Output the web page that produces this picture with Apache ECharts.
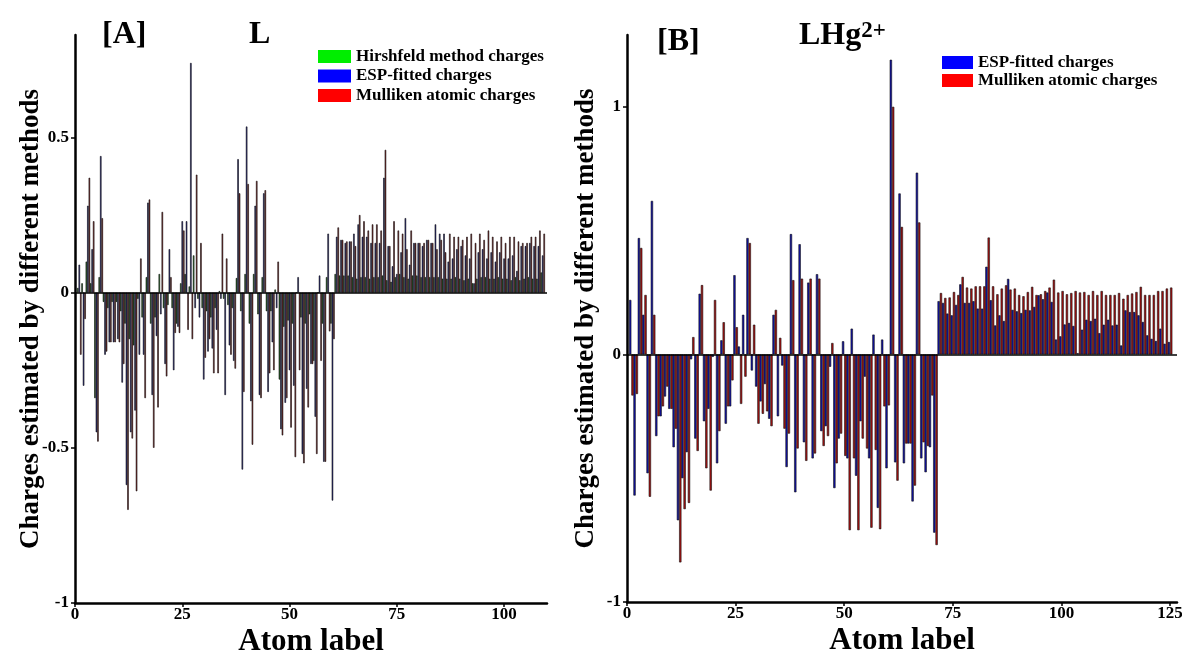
<!DOCTYPE html>
<html>
<head>
<meta charset="utf-8">
<script src="https://cdn.jsdelivr.net/npm/echarts@6/dist/echarts.min.js"></script>
<style>
  html, body { margin: 0; background: #fff; }
  #chart { width: 1182px; height: 653px; }
</style>
</head>
<body>
<div id="chart"></div>
<script>
// [A] L : charges per atom (1..109)
const hirshA = [
  0.015, 0.03, 0.1, 0.03, -0.34, 0.05, -0.03, -0.05, -0.03, -0.03,
  -0.06, -0.1, -0.15, -0.17, -0.02, -0.08, 0.05, -0.1, -0.08, 0.06,
  -0.05, -0.04, -0.05, -0.1, 0.03, 0.06, 0.02, 0.12, -0.02, -0.05,
  -0.06, -0.08, -0.05, 0.005, -0.02, -0.04, -0.05, 0.047, -0.06, 0.06,
  -0.1, 0.06, -0.07, 0.05, -0.06, -0.06, 0.01, -0.28, -0.11, -0.09,
  -0.1, 0, -0.08, -0.1, -0.07, -0.22, 0, -0.1, 0.05, -0.1,
  0.06, 0.055, 0.055, 0.055, 0.05, 0.045, 0.05, 0.05, 0.045, 0.05,
  0.05, 0.055, 0.04, 0.035, 0.05, 0.06, 0.05, 0.045, 0.055, 0.055,
  0.05, 0.05, 0.05, 0.05, 0.05, 0.045, 0.045, 0.045, 0.05, 0.045,
  0.04, 0.045, 0.03, 0.045, 0.05, 0.05, 0.045, 0.045, 0.05, 0.045,
  0.045, 0.04, 0.05, 0.04, 0.045, 0.05, 0.045, 0.045, 0.065
];
const espA = [
  0.09, -0.3, 0.28, 0.14, -0.45, 0.44, -0.2, -0.16, -0.16, -0.15,
  -0.29, -0.62, -0.45, -0.38, -0.2, -0.2, 0.29, -0.33, -0.14, -0.07,
  -0.23, 0.14, -0.25, -0.11, 0.23, 0.23, 0.74, -0.05, -0.08, -0.28,
  -0.19, -0.18, -0.12, -0.02, -0.33, -0.17, -0.22, 0.43, -0.57, 0.535,
  -0.35, 0.28, -0.33, 0.32, -0.32, -0.16, -0.05, -0.44, -0.355, -0.25,
  -0.3, 0.05, -0.52, -0.31, -0.23, -0.4, 0.055, -0.545, 0.19, -0.67,
  0.18, 0.17, 0.16, 0.165, 0.19, 0.22, 0.18, 0.18, 0.16, 0.16,
  0.16, 0.37, 0.15, 0.085, 0.06, 0.13, 0.24, 0.09, 0.16, 0.16,
  0.15, 0.17, 0.16, 0.22, 0.19, 0.19, 0.1, 0.11, 0.14, 0.15,
  0.12, 0.11, 0.03, 0.13, 0.14, 0.11, 0.13, 0.1, 0.13, 0.11,
  0.11, 0.12, 0.07, 0.15, 0.15, 0.16, 0.15, 0.15, 0.12
];
const mullA = [
  -0.2, -0.085, 0.37, 0.23, -0.48, 0.24, -0.19, -0.16, -0.16, -0.16,
  -0.23, -0.7, -0.47, -0.64, 0.11, -0.34, 0.3, -0.5, -0.37, 0.26,
  -0.27, 0.05, -0.13, -0.13, 0.2, -0.12, -0.15, 0.38, 0.16, -0.21,
  -0.15, -0.26, -0.26, 0.19, 0.11, -0.2, -0.245, 0.32, -0.32, 0.35,
  -0.49, 0.36, -0.34, 0.33, -0.26, -0.25, 0.1, -0.46, -0.34, -0.435,
  -0.53, -0.25, -0.55, -0.37, -0.23, -0.52, -0.22, -0.545, -0.125, -0.15,
  0.21, 0.17, 0.165, 0.165, 0.15, 0.25, 0.23, 0.2, 0.22, 0.22,
  0.2, 0.46, 0.15, 0.23, 0.2, 0.19, 0.14, 0.2, 0.16, 0.16,
  0.16, 0.17, 0.16, 0.14, 0.17, 0.13, 0.19, 0.18, 0.18, 0.17,
  0.18, 0.19, 0.16, 0.19, 0.17, 0.2, 0.18, 0.165, 0.18, 0.16,
  0.18, 0.18, 0.165, 0.16, 0.16, 0.18, 0.18, 0.2, 0.19
];

// [B] LHg2+ : charges per atom (1..125)
const espB = [
  0.22, -0.57, 0.47, 0.16, -0.48, 0.62, -0.33, -0.25, -0.17, -0.22,
  -0.375, -0.67, -0.5, -0.395, -0.02, -0.34, 0.245, -0.27, -0.22, -0.01,
  -0.44, 0.057, -0.28, -0.21, 0.32, 0.032, 0.16, 0.47, -0.065, -0.13,
  -0.19, -0.12, -0.26, 0.16, -0.25, -0.045, -0.455, 0.486, -0.557, 0.445,
  -0.355, 0.29, -0.42, 0.324, -0.31, -0.29, -0.05, -0.54, -0.34, 0.053,
  -0.42, 0.104, -0.49, -0.27, -0.09, -0.42, 0.08, -0.62, 0.06, -0.46,
  1.19, -0.436, 0.65, -0.44, -0.36, -0.594, 0.734, -0.42, -0.476, -0.375,
  -0.72,
  0.215, 0.208, 0.165, 0.158, 0.2, 0.283, 0.208, 0.208, 0.215, 0.185,
  0.185, 0.354, 0.219, 0.117, 0.158, 0.135, 0.305, 0.18, 0.174, 0.167,
  0.18, 0.178, 0.192, 0.239, 0.223, 0.25, 0.212, 0.06, 0.073, 0.121,
  0.127, 0.115, 0.005, 0.1, 0.14, 0.135, 0.144, 0.086, 0.12, 0.14,
  0.117, 0.12, 0.036, 0.178, 0.171, 0.171, 0.158, 0.131, 0.077, 0.063,
  0.054, 0.104, 0.043, 0.05
];
const mullB = [
  -0.166, -0.16, 0.43, 0.24, -0.575, 0.16, -0.25, -0.21, -0.13, -0.22,
  -0.3, -0.84, -0.625, -0.6, 0.07, -0.39, 0.28, -0.46, -0.55, 0.22,
  -0.31, 0.13, -0.21, -0.105, 0.11, -0.2, -0.09, 0.45, 0.12, -0.28,
  -0.24, -0.23, -0.29, 0.18, 0.067, -0.3, -0.32, 0.3, -0.38, 0.306,
  -0.43, 0.306, -0.4, 0.306, -0.37, -0.33, 0.046, -0.44, -0.32, -0.41,
  -0.71, -0.42, -0.71, -0.34, -0.38, -0.7, -0.386, -0.706, -0.21, -0.206,
  1.0, -0.51, 0.515, -0.36, -0.36, -0.53, 0.533, -0.355, -0.37, -0.166,
  -0.77,
  0.248, 0.228, 0.23, 0.252, 0.24, 0.313, 0.27, 0.266, 0.275, 0.275,
  0.275, 0.472, 0.275, 0.243, 0.266, 0.279, 0.262, 0.266, 0.24, 0.235,
  0.252, 0.273, 0.24, 0.243, 0.256, 0.27, 0.302, 0.25, 0.256, 0.243,
  0.248, 0.256, 0.25, 0.252, 0.24, 0.256, 0.24, 0.256, 0.24, 0.24,
  0.24, 0.248, 0.225, 0.24, 0.246, 0.252, 0.273, 0.24, 0.24, 0.24,
  0.256, 0.256, 0.266, 0.27
];

const xTicksA = [0, 25, 50, 75, 100];
const xTicksB = [0, 25, 50, 75, 100, 125];
const yTicksA = [-1, -0.5, 0, 0.5];
const yTicksB = [-1, 0, 1];

const SERIF = '"Liberation Serif", "DejaVu Serif", serif';
const toPairs = vals => vals.map((v, i) => [i + 1, v]);

const chart = echarts.init(document.getElementById('chart'));

const axisLab = { fontFamily: SERIF, fontWeight: 'bold', fontSize: 17, color: '#000' };
const xNameStyle = { fontFamily: SERIF, fontWeight: 'bold', fontSize: 31, color: '#000' };
const yNameStyle = { fontFamily: SERIF, fontWeight: 'bold', fontSize: 27, color: '#000' };
const lineStyle = { color: '#000', width: 2.5 };

function xAxis(idx, max, ticks) {
  return {
    type: 'value', gridIndex: idx, min: 0, max: max,
    name: 'Atom label', nameLocation: 'middle', nameGap: 23, nameTextStyle: xNameStyle,
    nameMoveOverlap: false,
    axisLine: { show: true, onZero: false, lineStyle: lineStyle },
    axisTick: { show: true, length: 4, lineStyle: { color: '#000', width: 1.5 }, customValues: ticks },
    axisLabel: Object.assign({ margin: 3, customValues: ticks }, axisLab),
    splitLine: { show: false }
  };
}
function yAxis(idx, max, ticks, gap) {
  return {
    type: 'value', gridIndex: idx, min: -1, max: max,
    name: 'Charges estimated by different methods', nameLocation: 'middle', nameGap: gap,
    nameRotate: 90, nameTextStyle: yNameStyle, nameMoveOverlap: false,
    axisLine: { show: true, lineStyle: lineStyle },
    axisTick: { show: true, length: 4, lineStyle: { color: '#000', width: 1.5 }, customValues: ticks },
    axisLabel: Object.assign({ margin: 6, customValues: ticks }, axisLab),
    splitLine: { show: false }
  };
}

const zeroLine = {
  silent: true, symbol: 'none', label: { show: false },
  lineStyle: { color: '#000', type: 'solid', width: 1.5 },
  data: [{ yAxis: 0 }]
};

function bars(name, xi, vals, color, width, withZero) {
  const s = {
    name: name, type: 'bar', xAxisIndex: xi, yAxisIndex: xi,
    data: toPairs(vals), barWidth: width, barGap: '0%',
    itemStyle: { color: color, borderColor: '#111', borderWidth: 0.6 }
  };
  if (withZero) s.markLine = zeroLine;
  return s;
}

const legendText = { fontFamily: SERIF, fontWeight: 'bold', fontSize: 17, color: '#000' };
const titleStyle = { fontFamily: SERIF, fontWeight: 'bold', fontSize: 32, color: '#000' };

chart.setOption({
  animation: false,
  backgroundColor: '#fff',
  title: [
    { text: '[A]', left: 97, top: 14, textStyle: titleStyle },
    { text: 'L', left: 244, top: 14, textStyle: titleStyle },
    { text: '[B]', left: 652, top: 21, textStyle: titleStyle },
    {
      text: '{a|LHg}{b|2+}', left: 794, top: 15,
      textStyle: {
        rich: {
          a: { fontFamily: SERIF, fontWeight: 'bold', fontSize: 32, color: '#000', verticalAlign: 'bottom' },
          b: { fontFamily: SERIF, fontWeight: 'bold', fontSize: 23, color: '#000', verticalAlign: 'top' }
        }
      }
    }
  ],
  legend: [
    {
      left: 313, top: 43, orient: 'vertical', itemWidth: 33, itemHeight: 13, itemGap: 2.5,
      icon: 'rect', textStyle: legendText,
      data: [
        { name: 'Hirshfeld method charges', itemStyle: { color: '#00ee00', borderWidth: 0 } },
        { name: 'ESP-fitted charges', itemStyle: { color: '#0000ff', borderWidth: 0 } },
        { name: 'Mulliken atomic charges', itemStyle: { color: '#ff0000', borderWidth: 0 } }
      ]
    },
    {
      left: 937, top: 49, orient: 'vertical', itemWidth: 31, itemHeight: 13, itemGap: 1,
      icon: 'rect', textStyle: legendText,
      data: [
        { name: 'ESP-fitted charges', itemStyle: { color: '#0000ff', borderWidth: 0 } },
        { name: 'Mulliken atomic charges', itemStyle: { color: '#ff0000', borderWidth: 0 } }
      ]
    }
  ],
  grid: [
    { left: 75, top: 35, width: 472, height: 568, outerBoundsMode: 'none', containLabel: false },
    { left: 627, top: 35, width: 550, height: 567, outerBoundsMode: 'none', containLabel: false }
  ],
  xAxis: [xAxis(0, 110, xTicksA), xAxis(1, 126.6, xTicksB)],
  yAxis: [yAxis(0, 0.83, yTicksA, 30), yAxis(1, 1.29, yTicksB, 27)],
  series: [
    bars('Hirshfeld method charges', 0, hirshA, '#1a6e1a', 1.5, true),
    bars('ESP-fitted charges', 0, espA, '#1c1c80', 1.5, false),
    bars('Mulliken atomic charges', 0, mullA, '#801c1c', 1.5, false),
    bars('ESP-fitted charges', 1, espB, '#1010a8', 2.3, true),
    bars('Mulliken atomic charges', 1, mullB, '#a81010', 2.3, false)
  ]
});
</script>
</body>
</html>
